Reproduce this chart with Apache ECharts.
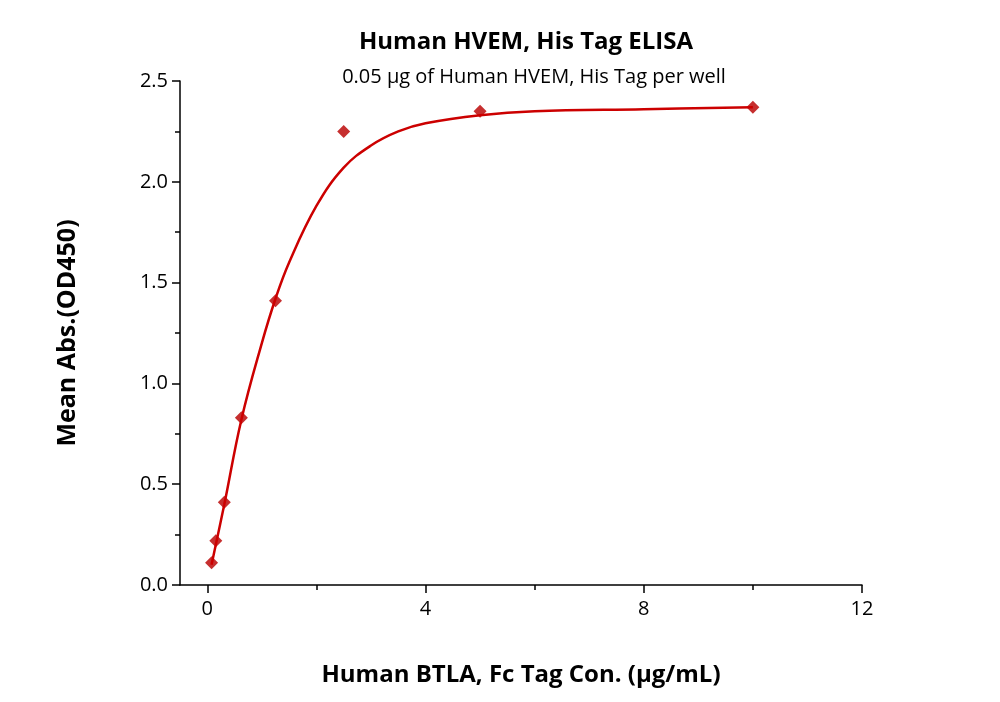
<!DOCTYPE html>
<html>
<head>
<meta charset="UTF-8">
<title>Human HVEM ELISA</title>
<script src="https://cdn.jsdelivr.net/npm/echarts@6/dist/echarts.min.js"></script>
<style>
  * { margin: 0; padding: 0; }
  html, body { width: 1000px; height: 702px; background: #fff; }
  #chart { width: 1000px; height: 702px; }
</style>
</head>
<body>
<div id="chart"></div>
<script>
  // measured points (conc, OD450)
  const concs = [0.078, 0.156, 0.3125, 0.625, 1.25, 2.5, 5, 10]
  const absorb = [0.11, 0.22, 0.41, 0.83, 1.41, 2.25, 2.35, 2.37]
  // fitted curve
  const fitX = [0.078, 0.156, 0.3125, 0.625, 1.0, 1.25, 1.5, 2.0, 2.5, 3.0, 3.5, 4.0, 5.0, 6.0, 8.0, 10.0]
  const fitY = [0.10, 0.20, 0.40, 0.82, 1.20, 1.42, 1.60, 1.88, 2.07, 2.18, 2.25, 2.29, 2.33, 2.35, 2.36, 2.37]
  const xLabels = [0, 4, 8, 12]
  const xMinor = [2, 6, 10]

  const chart = echarts.init(document.getElementById('chart'))
  const red = '#c62f2f'
  const font = 'Open Sans'

  chart.setOption({
    animation: false,
    title: [
      { text: 'Human HVEM, His Tag ELISA', left: 521, top: 25, textAlign: 'center',
        textStyle: { fontFamily: font, fontSize: 24, fontWeight: 'bold', color: '#000' } },
      { text: '0.05 μg of Human HVEM, His Tag per well', left: 529, top: 62, textAlign: 'center',
        textStyle: { fontFamily: font, fontSize: 20, fontWeight: 'normal', color: '#000' } }
    ],
    grid: { left: 180, right: 138, top: 81, bottom: 117 },
    xAxis: [{
      type: 'value', min: -0.5, max: 12,
      name: 'Human BTLA, Fc Tag Con. (μg/mL)', nameLocation: 'middle', nameGap: 78,
      nameTextStyle: { fontFamily: font, fontSize: 24, fontWeight: 'bold', color: '#000' },
      axisLine: { onZero: false, lineStyle: { color: '#000', width: 1.5 } },
      axisTick: { customValues: xLabels, length: 8, lineStyle: { color: '#000', width: 1.5 } },
      axisLabel: { customValues: xLabels, fontFamily: font, fontSize: 20, color: '#000', margin: 14 },
      splitLine: { show: false }
    }, {
      type: 'value', min: -0.5, max: 12, position: 'bottom',
      axisLine: { show: false },
      axisTick: { customValues: xMinor, length: 5, lineStyle: { color: '#000', width: 1.5 } },
      axisLabel: { show: false },
      splitLine: { show: false }
    }],
    yAxis: {
      type: 'value', min: 0, max: 2.5, interval: 0.5,
      name: 'Mean Abs.(OD450)', nameLocation: 'middle', nameGap: 100,
      nameTextStyle: { fontFamily: font, fontSize: 25, fontWeight: 'bold', color: '#000' },
      axisLine: { show: true, onZero: false, lineStyle: { color: '#000', width: 1.5 } },
      axisTick: { length: 8, lineStyle: { color: '#000', width: 1.5 } },
      minorTick: { show: true, splitNumber: 2, length: 5, lineStyle: { color: '#000', width: 1.5 } },
      axisLabel: { fontFamily: font, fontSize: 20, color: '#000', margin: 12,
        formatter: v => v.toFixed(1) },
      splitLine: { show: false }
    },
    series: [{
      type: 'line', smooth: 0.4, symbol: 'none',
      data: fitX.map((x, i) => [x, fitY[i]]),
      lineStyle: { color: '#cc0000', width: 2.5 }
    }, {
      type: 'scatter', symbol: 'diamond', symbolSize: 13,
      data: concs.map((x, i) => [x, absorb[i]]),
      itemStyle: { color: red, opacity: 1 }
    }]
  })
</script>
</body>
</html>
